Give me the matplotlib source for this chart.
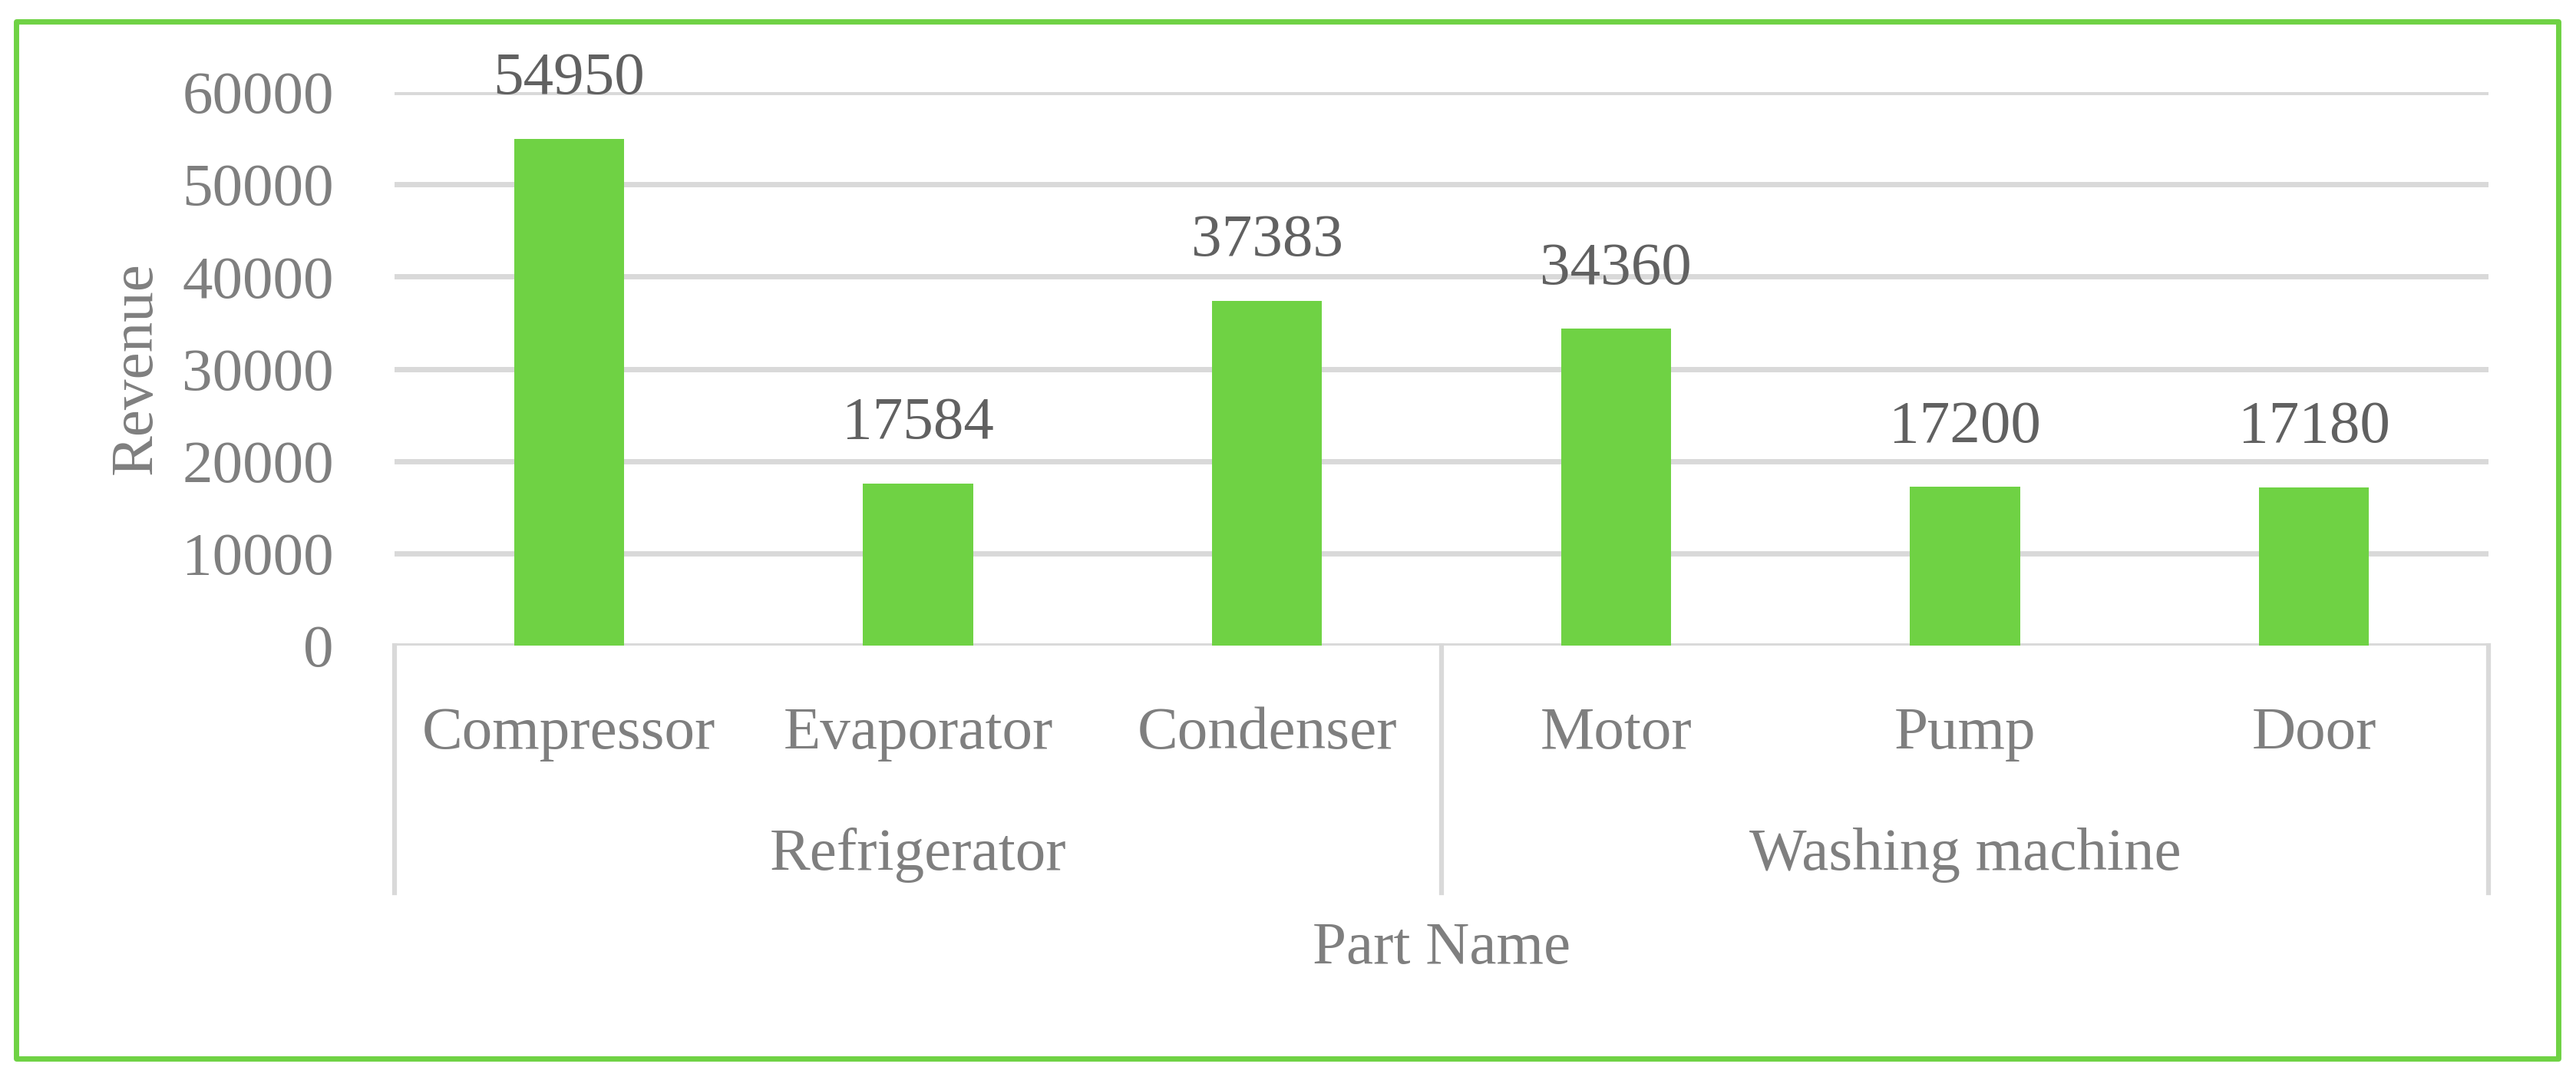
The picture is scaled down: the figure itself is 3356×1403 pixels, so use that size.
import matplotlib
matplotlib.use("Agg")
import matplotlib.pyplot as plt
from matplotlib.patches import Rectangle

parts = ["Compressor", "Evaporator", "Condenser", "Motor", "Pump", "Door"]
revenue = [54950, 17584, 37383, 34360, 17200, 17180]
groups = ["Refrigerator", "Washing machine"]
group_sizes = [3, 3]
yticks = [0, 10000, 20000, 30000, 40000, 50000, 60000]

green = "#6fd244"
grey = "#7f7f7f"
grid = "#d9d9d9"
fs = 57

plt.rcParams["font.family"] = ["Liberation Serif", "DejaVu Serif"]

fig = plt.figure(figsize=(33.56, 14.03), dpi=100)
ax = fig.add_axes([514 / 3356, 1 - 841 / 1403, 2728 / 3356, 721 / 1403])

x = list(range(len(parts)))
bars = ax.bar(x, revenue, width=0.315, color=green, zorder=3)
for xi, v in zip(x, revenue):
    ax.annotate(str(v), (xi, v), xytext=(0, 42), textcoords="offset points",
                ha="center", va="baseline", fontsize=fs, color="#616161",
                annotation_clip=False)

ax.set_xlim(-0.5, len(parts) - 0.5)
ax.set_ylim(0, 60000)
ax.set_yticks(yticks)
ax.set_yticklabels([str(t) for t in yticks], fontsize=fs, color=grey)
ax.tick_params(axis="y", length=0, pad=57)
ax.set_xticks([])
ax.yaxis.grid(True, color=grid, linewidth=5, zorder=0)
for s in ax.spines.values():
    s.set_visible(False)

# category labels and group boxes below the axis
tr = ax.get_xaxis_transform()
for xi, name in zip(x, parts):
    ax.text(xi, -0.186, name, transform=tr, ha="center", va="baseline",
            fontsize=fs, color=grey)

start = -0.5
ax.axvline(start, ymin=-0.447, ymax=0, color=grid, lw=4.5, clip_on=False)
for g, n in zip(groups, group_sizes):
    mid = start + n / 2
    ax.text(mid, -0.4056, g, transform=tr, ha="center", va="baseline",
            fontsize=fs, color=grey)
    start += n
    ax.axvline(start, ymin=-0.447, ymax=0, color=grid, lw=4.5, clip_on=False)

ax.text(0.5, -0.5736, "Part Name", transform=ax.transAxes, ha="center",
        va="baseline", fontsize=fs, color=grey)
fig.text(178 / 3356, 1 - 480 / 1403, "Revenue", rotation=90, ha="center",
         va="center", fontsize=fs, color=grey)

# green frame round the whole chart
fig.patches.append(Rectangle((20.5 / 3356, 1 - 1379 / 1403), 3312 / 3356,
                             1351.5 / 1403, transform=fig.transFigure,
                             fill=False, edgecolor=green, linewidth=5,
                             joinstyle="round"))

fig.savefig("out.png", dpi=100, facecolor="white")
